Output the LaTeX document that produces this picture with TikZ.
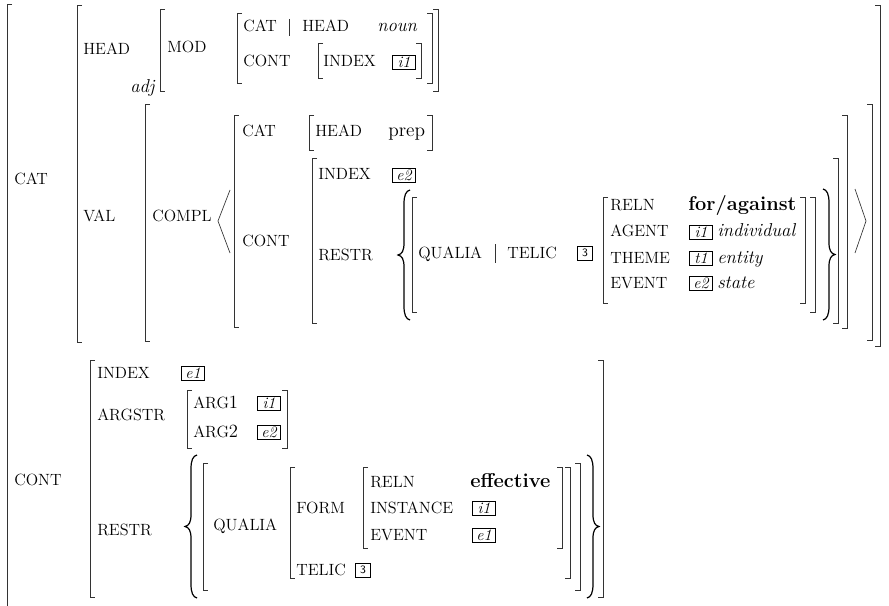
\documentclass[tikz,border=0pt]{standalone}
\usepackage{fontspec}
\begin{document}
\begin{tikzpicture}[x=0.75pt, y=-0.75pt,
    lbl/.style={anchor=base west, inner sep=0pt, font=\fontsize{12.2}{14}\selectfont},
    typ/.style={anchor=base west, inner sep=0pt, font=\fontsize{14}{16}\selectfont\itshape},
    rom/.style={anchor=base west, inner sep=0pt, font=\fontsize{14.5}{16}\selectfont},
    bld/.style={anchor=base west, inner sep=0pt, font=\fontsize{15}{17}\selectfont\bfseries},
    tag/.style={draw, line width=0.5pt, inner sep=0pt, minimum width=17pt, minimum height=10.5pt, font=\fontsize{12}{12}\selectfont\itshape},
    num/.style={draw, line width=0.5pt, inner sep=0pt, minimum width=11pt, minimum height=10.5pt, font=\fontsize{8.5}{10}\selectfont\sffamily},
    brk/.style={line width=0.5pt, black!80},
    brc/.style={line width=0.9pt}]
    % Rahmen
    \useasboundingbox (0,0) rectangle (889,606);

    % aeussere Klammer
    \draw[brk] (12,4) -- (7,4) -- (7,606);

    % linke Klammern: x / oben / unten
    \foreach \x/\ya/\yb in {77/5/342, 160/9/91, 237/13/83, 318/43/78,
        145/104/341, 234/115/327, 309/115/150, 312/158/323, 412/197/312, 603/197/303,
        90/360/597, 187/390/448, 203/463/590, 290/467/578, 363/467/548}
    \draw[brk] (\x+5,\ya) -- (\x,\ya) -- (\x,\yb) -- (\x+5,\yb);

    % rechte Klammern
    \foreach \x/\ya/\yb in {880/5/346, 438/9/91, 432/13/83, 421/43/78,
        872/104/340, 847/115/328, 432/115/150, 838/158/323, 815/197/312, 805/197/303,
        603/360/597, 287/390/448, 580/463/590, 570/467/578, 562/467/548}
    \draw[brk] (\x-5,\ya) -- (\x,\ya) -- (\x,\yb) -- (\x-5,\yb);

    % Mengenklammern: Enden x / oben / unten / Richtung
    \foreach \x/\ya/\yb/\s in {410/190/320/1, 823/189/320/-1, 197/455/598/1, 587/455/598/-1} {
        \pgfmathsetmacro\ym{(\ya+\yb)/2}
        \draw[brc] (\x,\ya)
        .. controls (\x-4*\s,\ya+1) and (\x-6*\s,\ya+5) .. (\x-6*\s,\ya+14)
        -- (\x-6*\s,\ym-12)
        .. controls (\x-6*\s,\ym-4) and (\x-8*\s,\ym-1) .. (\x-12*\s,\ym)
        .. controls (\x-8*\s,\ym+1) and (\x-6*\s,\ym+4) .. (\x-6*\s,\ym+12)
        -- (\x-6*\s,\yb-14)
        .. controls (\x-6*\s,\yb-5) and (\x-4*\s,\yb-1) .. (\x,\yb);
    }

    % Listenklammern und Pfadstriche
    \draw[brk] (230,190) -- (218,221) -- (230,253);
    \draw[brk] (855,189) -- (866,221) -- (855,253);
    \draw[brk] (289,19) -- (289,36);
    \draw[brk] (495,244) -- (495,263);

    % CAT
    \node[lbl] (cat) at (14,185) {CAT};
    \node[lbl] (head) at (83,55) {HEAD};
    \node[typ] (adj) at (130,93) {adj};
    \node[lbl] (mod) at (167,53) {MOD};
    \node[lbl] (mcat) at (243,32) {CAT};
    \node[lbl] (mhead) at (302,32) {HEAD};
    \node[typ] (noun) at (377,32) {noun};
    \node[lbl] (mcont) at (243,67) {CONT};
    \node[lbl] (mindex) at (323,67) {INDEX};
    \node[tag] (mtag) at (404,62) {i1};
    \node[lbl] (val) at (83,222) {VAL};
    \node[lbl] (compl) at (152,222) {COMPL};
    \node[lbl] (ccat) at (242,137) {CAT};
    \node[lbl] (chead) at (315,137) {HEAD};
    \node[rom] (prep) at (388,137) {prep};
    \node[lbl] (ccont) at (242,247) {CONT};
    \node[lbl] (cindex) at (318,180) {INDEX};
    \node[tag] (ctag) at (404,175) {e2};
    \node[lbl] (crestr) at (318,260) {RESTR};
    \node[lbl] (qualia) at (418,258) {QUALIA};
    \node[lbl] (telic) at (507,258) {TELIC};
    \node[num] (telictag) at (585,253) {3};
    \node[lbl] (reln) at (610,210) {RELN};
    \node[bld] (foragainst) at (688,210) {for/against};
    \node[lbl] (agent) at (610,237) {AGENT};
    \node[tag] (agenttag) at (701,232) {i1};
    \node[typ] (individual) at (717,237) {individual};
    \node[lbl] (theme) at (610,263) {THEME};
    \node[tag] (themetag) at (701,258) {t1};
    \node[typ] (entity) at (717,263) {entity};
    \node[lbl] (event) at (610,288) {EVENT};
    \node[tag] (eventtag) at (701,283) {e2};
    \node[typ] (state) at (717,288) {state};

    % CONT
    \node[lbl] (cont) at (14,485) {CONT};
    \node[lbl] (index) at (97,378) {INDEX};
    \node[tag] (indextag) at (193,373) {e1};
    \node[lbl] (argstr) at (97,420) {ARGSTR};
    \node[lbl] (argone) at (193,408) {ARG{\fontsize{14}{16}\selectfont 1}};
    \node[tag] (argonetag) at (269,403) {i1};
    \node[lbl] (argtwo) at (193,437) {ARG{\fontsize{14}{16}\selectfont 2}};
    \node[tag] (argtwotag) at (269,432) {e2};
    \node[lbl] (restr) at (97,535) {RESTR};
    \node[lbl] (bqualia) at (213,530) {QUALIA};
    \node[lbl] (form) at (296,513) {FORM};
    \node[lbl] (btelic) at (296,575) {TELIC};
    \node[num] (btelictag) at (363,570) {3};
    \node[lbl] (breln) at (370,487) {RELN};
    \node[bld] (effective) at (470,487) {effective};
    \node[lbl] (instance) at (370,513) {INSTANCE};
    \node[tag] (instancetag) at (484,508) {i1};
    \node[lbl] (bevent) at (370,540) {EVENT};
    \node[tag] (beventtag) at (484,535) {e1};
\end{tikzpicture}
\end{document}
